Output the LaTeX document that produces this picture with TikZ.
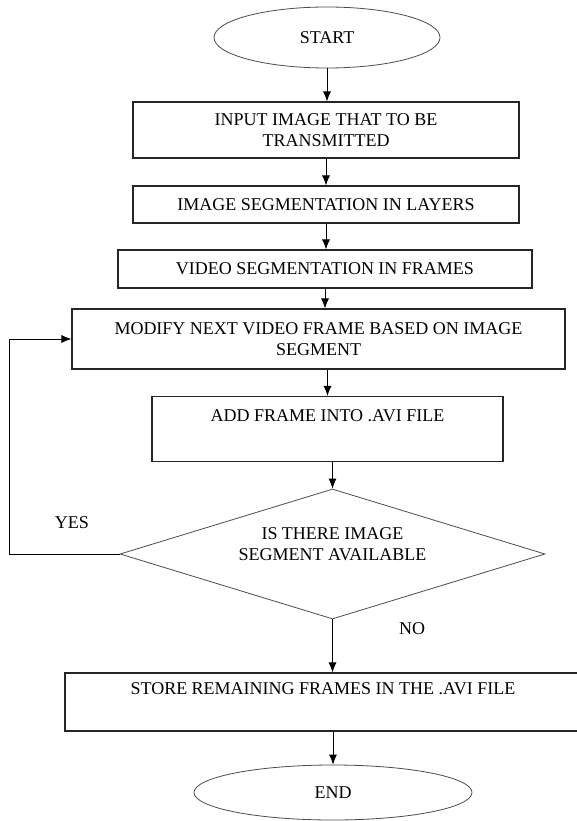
\documentclass[tikz,border=0pt]{standalone}
\usepackage{fontspec}
\setmainfont{Liberation Serif}
\usetikzlibrary{shapes.geometric,arrows.meta,positioning,calc}

\begin{document}
\begin{tikzpicture}[
    x=1pt, y=-1pt,
    proc/.style={rectangle, draw=black!85, line width=1.1pt, align=center, inner sep=0pt, font=\fontsize{18}{21}\selectfont},
    term/.style={ellipse, draw=black!70, line width=0.8pt, inner sep=0pt, font=\fontsize{18}{21}\selectfont},
    decide/.style={diamond, aspect=3.27, draw=black!70, line width=0.8pt, align=center, inner sep=0pt, font=\fontsize{18}{21}\selectfont},
    lbl/.style={font=\fontsize{18}{21}\selectfont},
    arrow/.style={-{Latex[length=10pt,width=8pt]}, line width=0.8pt}
]
    \fill[white] (0,0) rectangle (577,821);
    \clip (0,0) rectangle (577,821);

    \node[term, minimum width=226, minimum height=61] (start) at (327,37.5) {START};
    \node[proc, minimum width=386, minimum height=56] (inp) at (326,130) {INPUT IMAGE THAT TO BE\\TRANSMITTED};
    \node[proc, minimum width=386, minimum height=37] (seg) at (326,204.5) {IMAGE SEGMENTATION IN LAYERS};
    \node[proc, minimum width=414, minimum height=38] (vseg) at (325,269) {VIDEO SEGMENTATION IN FRAMES};
    \node[proc, minimum width=493, minimum height=60] (mod) at (318.5,339) {MODIFY NEXT VIDEO FRAME BASED ON IMAGE\\SEGMENT};
    \node[proc, minimum width=351, minimum height=65] (add) at (327.5,429) {ADD FRAME INTO .AVI FILE\\\strut};
    \node[decide, minimum width=425, minimum height=130, text depth=20pt] (chk) at (332.5,554) {IS THERE IMAGE\\SEGMENT AVAILABLE};
    \node[proc, minimum width=516, minimum height=58] (store) at (323,702) {STORE REMAINING FRAMES IN THE .AVI FILE\\\strut};
    \node[term, minimum width=278, minimum height=55] (end) at (333,792.5) {END};

    \node[lbl] (yes) at (72,523) {YES};
    \node[lbl] (no) at (412,629) {NO};

    % main flow
    \draw[arrow] (start) -- (start |- inp.north);
    \draw[arrow] (inp) -- (inp |- seg.north);
    \draw[arrow] (seg) -- (seg |- vseg.north);
    \draw[arrow] (vseg) -- (vseg |- mod.north);
    \draw[arrow] (mod.south -| add) -- (add.north);
    \draw[arrow] (add.south -| chk) -- (chk.north);
    \draw[arrow] (chk.south) -- (chk |- store.north);
    \draw[arrow] (store.south -| end) -- (end.north);

    % loop back
    \draw[arrow] (chk.west) -- ++(-110,0) |- (mod.west);
\end{tikzpicture}
\end{document}
